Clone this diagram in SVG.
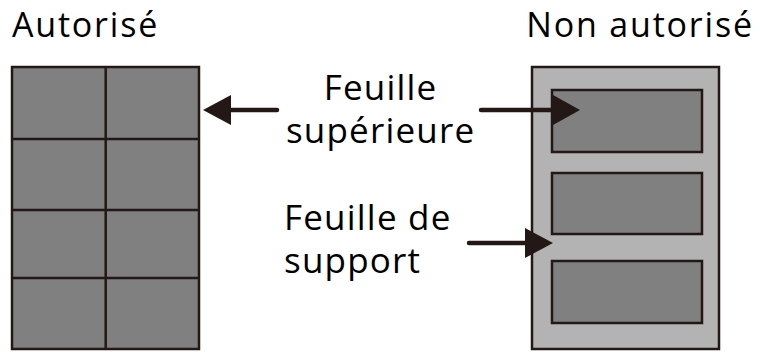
<svg xmlns="http://www.w3.org/2000/svg" width="760" height="352" viewBox="0 0 760 352">
<style>
text{font-family:"Open Sans","Noto Sans",sans-serif;fill:#000}
.t{font-size:34px;letter-spacing:1.8px}
.l{font-size:35px;letter-spacing:1.2px}
.dk{fill:#808080;stroke:#231815;stroke-width:2.5}
.lt{fill:#b3b3b3;stroke:#231815;stroke-width:2.5}
.ln{stroke:#231815;stroke-width:2.5;fill:none}
.ar{stroke:#231815;stroke-width:4.5;fill:none;stroke-linecap:round}
.hd{fill:#231815}
</style>
<g id="autorise">
<text class="t" x="12" y="37">Autorisé</text>
<rect class="dk" x="12" y="67" width="187" height="282"/>
<path class="ln" d="M105.7 67V349M12 139H199M12 210H199M12 278H199"/>
</g>
<g id="non-autorise">
<text class="t" x="753.8" y="37" text-anchor="end">Non autorisé</text>
<rect class="lt" x="532" y="67" width="187" height="282"/>
<rect class="dk" x="552" y="90" width="150" height="62"/>
<rect class="dk" x="552" y="173" width="150" height="61"/>
<rect class="dk" x="552" y="261" width="150" height="62"/>
</g>
<g id="feuille-superieure">
<text class="l" x="380.6" y="100" text-anchor="middle">Feuille</text>
<text class="l" x="380.6" y="143" text-anchor="middle">supérieure</text>
</g>
<g id="feuille-support">
<text class="l" x="284" y="230">Feuille de</text>
<text class="l" x="284" y="273">support</text>
</g>
<g id="connectors">
<path class="ar" d="M277 110H228"/>
<path class="hd" d="M203 110L231 95V125Z"/>
<path class="ar" d="M481 110H556"/>
<path class="hd" d="M580 110L553 95V125Z"/>
<path class="ar" d="M469 243H528"/>
<path class="hd" d="M553 243L525 228V258Z"/>
</g>
</svg>
